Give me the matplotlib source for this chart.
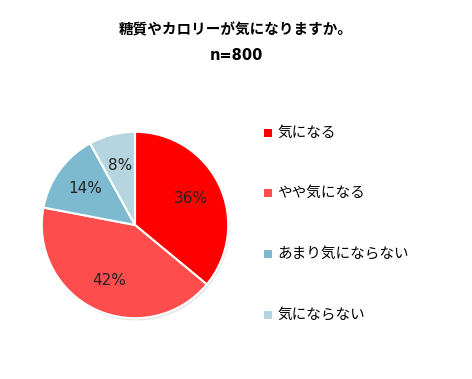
import matplotlib
matplotlib.use("Agg")
import matplotlib.pyplot as plt
from matplotlib.patches import Rectangle, Circle

plt.rcParams['font.family'] = ['Noto Sans CJK JP', 'DejaVu Sans']

title = "糖質やカロリーが気になりますか。"
subtitle = "n=800"
categories = ["気になる", "やや気になる", "あまり気にならない", "気にならない"]
values = [36, 42, 14, 8]
colors = ["#FF0000", "#FF4D4D", "#7DB9CF", "#B5D5E1"]

fig = plt.figure(figsize=(4.72, 3.79), dpi=100)
fig.patch.set_facecolor("white")

fig.text(0.5, 1 - 29/379, title, ha="center", va="center", fontsize=10.5, fontweight="bold")
fig.text(0.5, 1 - 55/379, subtitle, ha="center", va="center", fontsize=10.5,
         fontweight="bold", family=["DejaVu Sans"])

cx, cy, r = 135, 225, 96
ax = fig.add_axes([(cx - r)/472, 1 - (cy + r)/379, 2*r/472, 2*r/379])
ax.add_patch(Circle((0.015, -0.025), 1.0, facecolor="#E6E6E6", edgecolor="none", zorder=0))
wedges, texts, autotexts = ax.pie(
    values, colors=colors, startangle=90, counterclock=False,
    autopct=lambda p: f"{p:.0f}%", pctdistance=0.66,
    wedgeprops=dict(edgecolor="white", linewidth=1.5),
    textprops=dict(fontsize=11, color="#222222", family=["DejaVu Sans"]))
ax.set_xlim(-1.03, 1.03)
ax.set_ylim(-1.03, 1.03)
ax.set_aspect("auto")
ax.axis("off")

ys = [133, 193, 254, 315]
for lab, col, y in zip(categories, colors, ys):
    fig.patches.append(Rectangle(((264)/472, 1 - (y + 4)/379), 8/472, 8/379,
                                 transform=fig.transFigure, facecolor=col, edgecolor="none"))
    fig.text(277/472, 1 - y/379, lab, ha="left", va="center", fontsize=10.5)

fig.savefig("out.png", dpi=100, facecolor="white")
